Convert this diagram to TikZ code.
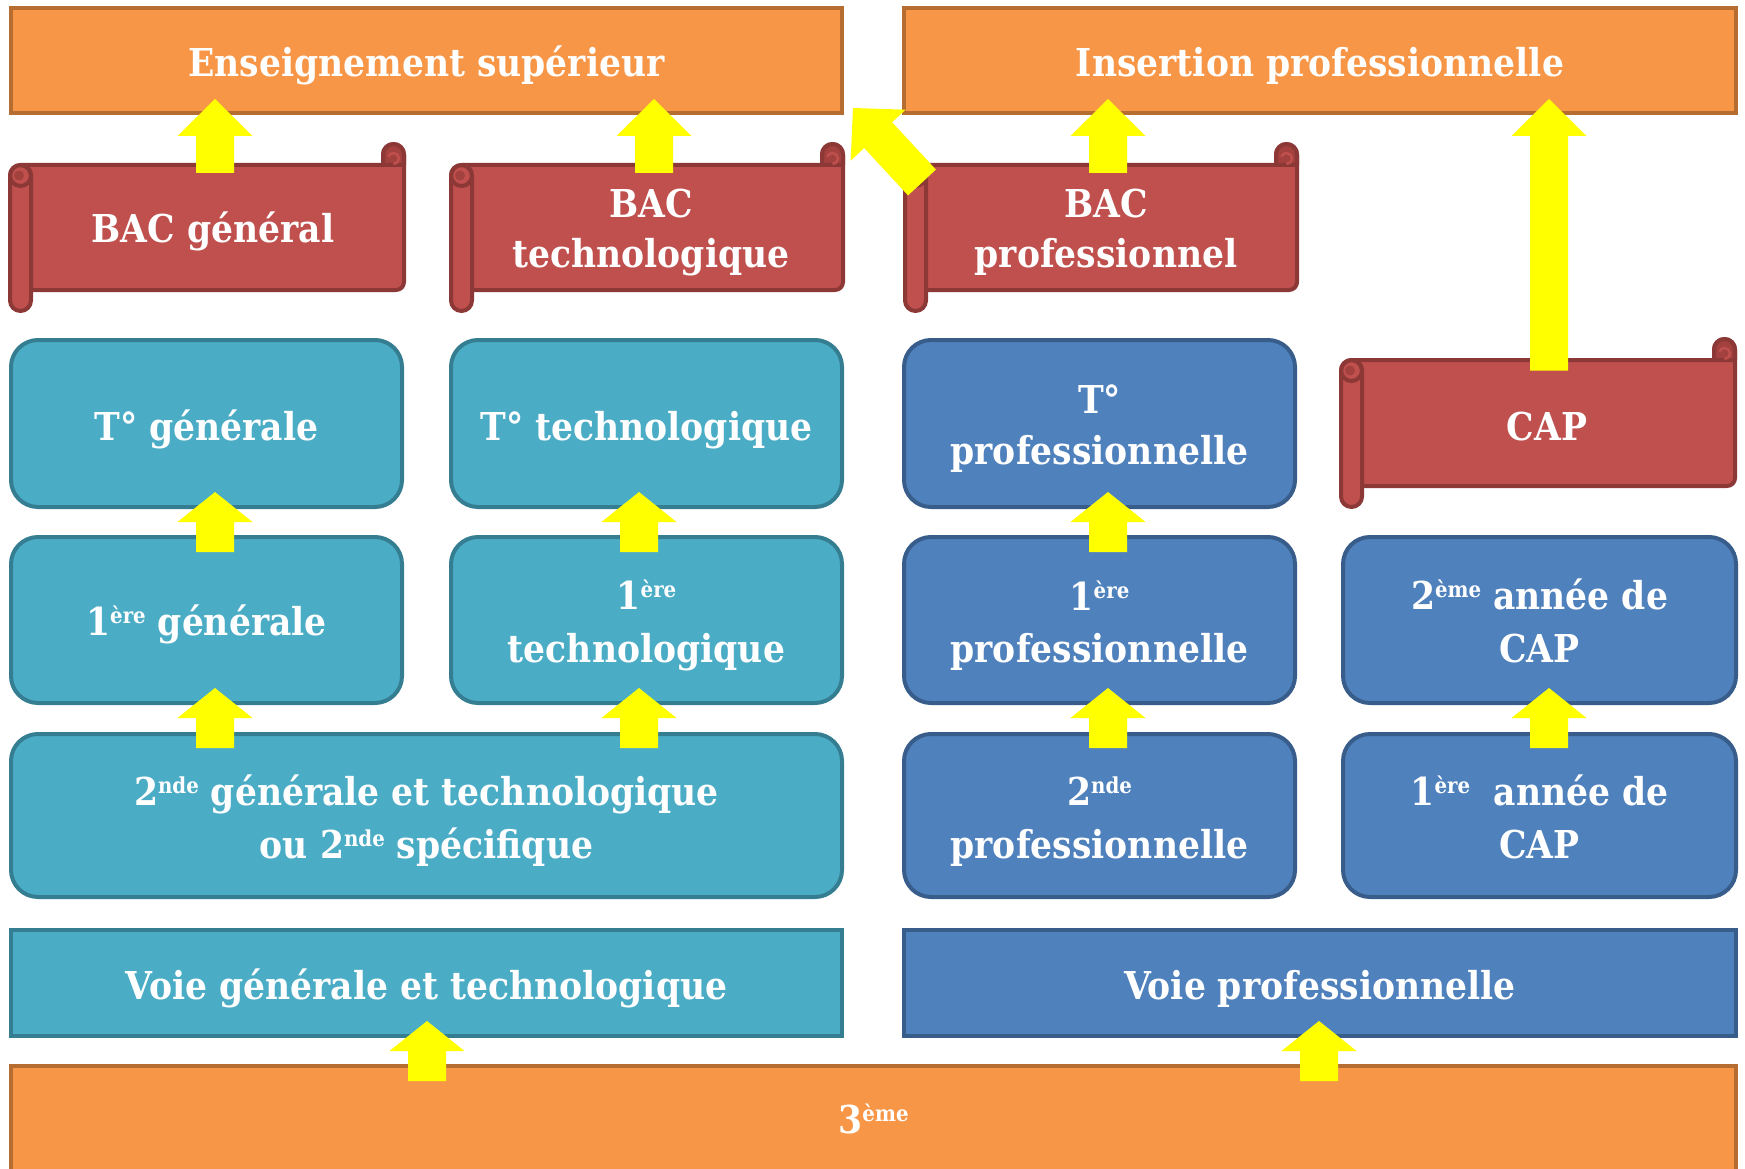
\documentclass[tikz,border=0pt]{standalone}
\usepackage{fontspec}
\setmainfont{DejaVu Serif}[FakeStretch=0.9]
\usetikzlibrary{calc}
\definecolor{orfill}{HTML}{F79646}
\definecolor{ordraw}{HTML}{B66D31}
\definecolor{tlfill}{HTML}{4BACC6}
\definecolor{tldraw}{HTML}{357D91}
\definecolor{blfill}{HTML}{4F81BD}
\definecolor{bldraw}{HTML}{385D8A}
\definecolor{rdfill}{HTML}{C0504D}
\definecolor{rddraw}{HTML}{8C3836}
\definecolor{rddark}{HTML}{A2413E}
\definecolor{arrowyellow}{HTML}{FFFF00}
\newcommand{\sups}[1]{\raisebox{0.3em}{\fontsize{22}{22}\selectfont #1}}
\newcommand{\twol}[3][50pt]{\vtop{\baselineskip=#1\relax\lineskiplimit=-100pt\halign{\hfil##\hfil\cr#2\cr#3\cr}}}
% scroll: l t r b (stroke centres)
\newcommand{\scrollshape}[4]{%
  \filldraw[scrollline,fill=rdfill] (#1+10.5,#2+21) -- (#3-21,#2+21) -- (#3-21,#2+10.5)
    arc[start angle=180,end angle=0,radius=10.5pt] -- (#3,#4-29)
    arc[start angle=0,end angle=-90,radius=8pt] -- (#1+10.5,#4-21) -- cycle;
  \filldraw[scrollline,fill=rddark] (#3-21,#2+21) -- (#3-21,#2+10.5)
    arc[start angle=180,end angle=0,radius=10.5pt] -- (#3,#2+21) -- cycle;
  \draw[rdfill,line width=2.5pt] (#3-10.5,#2+20) arc[start angle=-90,end angle=160,radius=5.5pt];
  \filldraw[scrollline,fill=rdfill,rounded corners=10.5pt] (#1,#2+21) rectangle (#1+21,#4);
  \draw[scrollline] (#1+10.5,#2+31.5) circle[radius=10.5pt];
  \fill[rddark] (#1+9,#2+31.5) circle[radius=5pt];
}
% block arrow: tail, tip, head length
\newcommand{\blockarrow}[3]{%
  \coordinate (ba-t) at (#1);
  \coordinate (ba-h) at (#2);
  \coordinate (ba-b) at ($(ba-h)!#3!(ba-t)$);
  \fill[arrowyellow] ($(ba-t)!19pt!90:(ba-h)$) -- ($(ba-b)!19pt!90:(ba-h)$)
    -- ($(ba-b)!37.5pt!90:(ba-h)$) -- (ba-h) -- ($(ba-b)!37.5pt!-90:(ba-h)$)
    -- ($(ba-b)!19pt!-90:(ba-h)$) -- ($(ba-t)!19pt!-90:(ba-h)$) -- cycle;
}
\begin{document}
\begin{tikzpicture}[x=1pt,y=-1pt,
  scrollline/.style={draw=rddraw,line width=4pt,line join=round},
  txt/.style={text=white,font=\fontsize{38.4}{50}\selectfont\bfseries,inner sep=0pt,outer sep=0pt},
  th/.style 2 args={text height=#1,text depth=#2},
  sz/.style 2 args={minimum width=#1,minimum height=#2},
  obox/.style={txt,draw=ordraw,fill=orfill,line width=4pt},
  tbox/.style={txt,draw=tldraw,fill=tlfill,line width=4pt,rounded corners=27pt},
  bbox/.style={txt,draw=bldraw,fill=blfill,line width=4pt,rounded corners=27pt},
  tsq/.style={txt,draw=tldraw,fill=tlfill,line width=4pt},
  bsq/.style={txt,draw=bldraw,fill=blfill,line width=4pt},
  stxt/.style={txt,minimum width=370pt,minimum height=125pt}]
\useasboundingbox (0,0) rectangle (1745,1169);
\fill[white] (0,0) rectangle (1745,1169);

% boxes
\node[obox,sz={831pt}{105pt},th={33pt}{0pt}] (es) at (426.5,60.5) {Enseignement supérieur};
\node[obox,sz={832pt}{105pt},th={33pt}{0pt}] (ip) at (1320,60.5) {Insertion professionnelle};
\node[tbox,sz={391pt}{167pt},th={33pt}{0pt}] (tg) at (206.5,423.5) {T° générale};
\node[tbox,sz={391pt}{167pt},th={33pt}{0pt}] (tt) at (646.5,423.5) {T° technologique};
\node[bbox,sz={391pt}{167pt},th={0pt}{21pt}] (tp) at (1099.5,423.5) {\twol[51pt]{T°}{professionnelle}};
\node[tbox,sz={391pt}{166pt},th={30pt}{0pt}] (g1) at (206.5,620) {1\sups{ère} générale};
\node[tbox,sz={391pt}{166pt},th={0pt}{22pt}] (t1) at (646.5,620) {\twol[53pt]{1\sups{ère}}{technologique}};
\node[bbox,sz={391pt}{166pt},th={0pt}{20pt}] (p1) at (1099.5,620) {\twol[52pt]{1\sups{ère}}{professionnelle}};
\node[bbox,sz={393pt}{166pt},th={0pt}{22pt}] (c2) at (1539.5,620) {\twol[53pt]{2\sups{ème} année de}{CAP}};
\node[tbox,sz={831pt}{163pt},th={0pt}{21pt}] (g2) at (426.5,815.5) {\twol[53pt]{2\sups{nde} générale et technologique}{ou 2\sups{nde} spécifique}};
\node[bbox,sz={391pt}{163pt},th={0pt}{21pt}] (p2) at (1099.5,815.5) {\twol[53pt]{2\sups{nde}}{professionnelle}};
\node[bbox,sz={393pt}{163pt},th={0pt}{21pt}] (c1) at (1539.5,815.5) {\twol[53pt]{1\sups{ère}\hspace{0.3em} année de}{CAP}};
\node[tsq,sz={831pt}{106pt},th={32pt}{0pt}] (vg) at (426.5,983) {Voie générale et technologique};
\node[bsq,sz={832pt}{106pt},th={32pt}{0pt}] (vp) at (1320,983) {Voie professionnelle};
\node[obox,sz={1725pt}{114pt},th={20pt}{0pt}] (trois) at (873.5,1123) {3\sups{ème}};

% scrolls
\scrollshape{10}{144}{404}{311}
\node[stxt,th={31pt}{0pt}] (bacg) at (213,227.5) {BAC général};
\scrollshape{451}{144}{843}{311}
\node[stxt,th={0pt}{19pt}] (bact) at (651,227.5) {\twol{BAC}{technologique}};
\scrollshape{905}{144}{1297}{311}
\node[stxt,th={0pt}{19pt}] (bacp) at (1106,227.5) {\twol{BAC}{professionnel}};
\scrollshape{1341}{339}{1735}{507}
\node[stxt,th={34pt}{0pt}] (cap) at (1547,423) {CAP};

% arrows
\blockarrow{$(bacg.north)+(2,8)$}{$(bacg.north |- es.south)+(2,-14)$}{37pt}
\blockarrow{$(bact.north)+(3,8)$}{$(bact.north |- es.south)+(3,-14)$}{37pt}
\blockarrow{$(bacp.north)+(2,8)$}{$(bacp.north |- ip.south)+(2,-14)$}{37pt}
\blockarrow{$(cap.north)+(2,10)$}{$(cap.north |- ip.south)+(2,-14)$}{37pt}
\blockarrow{$(bacp.north west)+(1,17.5)$}{$(es.south east)+(11,-5)$}{37pt}
\blockarrow{$(g1.north)+(8.5,15)$}{$(tg.south)+(8.5,-15)$}{30pt}
\blockarrow{$(t1.north)+(-7.5,15)$}{$(tt.south)+(-7.5,-15)$}{30pt}
\blockarrow{$(p1.north)+(8.5,15)$}{$(tp.south)+(8.5,-15)$}{30pt}
\blockarrow{$(g1.south |- g2.north)+(8.5,14)$}{$(g1.south)+(8.5,-15)$}{30pt}
\blockarrow{$(t1.south |- g2.north)+(-7.5,14)$}{$(t1.south)+(-7.5,-15)$}{30pt}
\blockarrow{$(p2.north)+(8.5,14)$}{$(p1.south)+(8.5,-15)$}{30pt}
\blockarrow{$(c1.north)+(9.5,14)$}{$(c2.south)+(9.5,-15)$}{30pt}
\blockarrow{$(vg.south |- trois.north)+(0.5,15)$}{$(vg.south)+(0.5,-15)$}{30pt}
\blockarrow{$(vp.south |- trois.north)+(-1,15)$}{$(vp.south)+(-1,-15)$}{30pt}
\end{tikzpicture}
\end{document}
